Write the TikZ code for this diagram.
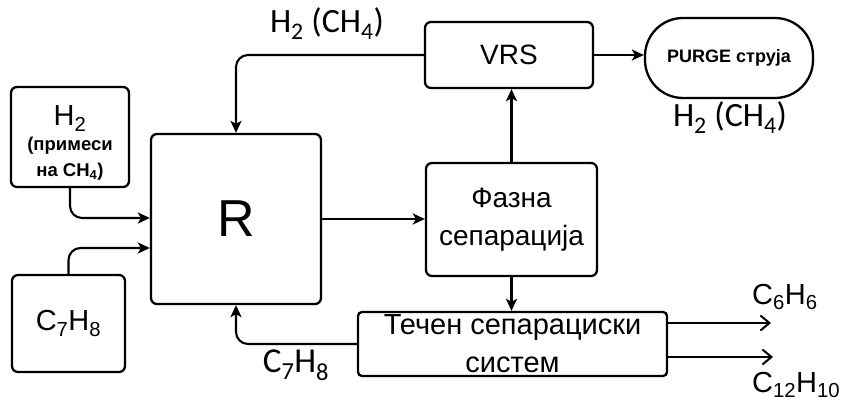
\documentclass[tikz,border=0pt]{standalone}
\usepackage{fontspec}
\setmainfont{Liberation Sans}
\newfontfamily\calib{Carlito}
\usetikzlibrary{arrows.meta,calc}

\tikzset{
  box/.style={draw, line width=2.3pt, rounded corners=6pt, inner sep=0pt, align=center},
  flow/.style={line width=2.1pt, -{Stealth[length=12pt,width=11pt,inset=3pt]}},
  outflow/.style={line width=2.1pt, -{Straight Barb[length=9pt,width=15pt,line width=2pt]}},
  lbl/.style={inner sep=0pt},
}
\newcommand{\fsz}[2]{\fontsize{#1}{#2}\selectfont}

\begin{document}
\begin{tikzpicture}[x=1pt,y=-1pt]
  \useasboundingbox (0,0) rectangle (851,403);

  % process blocks
  \node[box, minimum width=118pt, minimum height=100pt] (h2) at (70,137)
    {\fsz{29}{30}\rule{0pt}{32pt}H\textsubscript{2}\\[5pt]
     \bfseries\fsz{18.5}{21}(примеси\\[8pt]
     \bfseries\fsz{18.5}{21}на CH\textsubscript{4})};
  \node[box, minimum width=113pt, minimum height=97pt, font=\fsz{29}{34}] (c7) at (68.5,323.5)
    {C\textsubscript{7}H\textsubscript{8}};
  \node[box, minimum width=170pt, minimum height=170pt, font=\fsz{52}{60}] (R) at (236,219) {R};
  \node[box, minimum width=171pt, minimum height=113pt, font=\fsz{28}{38}] (faz) at (511.5,219.5)
    {Фазна\\сепарација};
  \node[box, minimum width=168pt, minimum height=66pt, font=\fsz{28}{34}] (vrs) at (509,55) {VRS};
  \node[box, rounded corners=38pt, minimum width=168pt, minimum height=80pt,
        font=\bfseries\fsz{18}{22}] (purge) at (729,58) {PURGE струја};
  \node[box, rounded corners=4pt, minimum width=309pt, minimum height=64pt,
        font=\fsz{29}{38}] (tech) at (512.5,344) {Течен сепарациски\\систем};

  % free ends of the product streams
  \coordinate (out1) at (771,323);
  \coordinate (out2) at (773,357);

  % feeds into the reactor
  \draw[flow, rounded corners=12pt] (h2.south) |- ($(R.west)+(0,-1)$);
  \draw[flow, rounded corners=12pt] (c7.north) |- ($(R.west)+(0,29)$);

  % main streams
  \draw[flow] (R.east) -- (R.east -| faz.west);
  \draw[flow] (faz.north) -- (faz.north |- vrs.south);
  \draw[flow] (faz.south) -- (faz.south |- tech.north);
  \draw[flow] (vrs.east) -- (vrs.east -| purge.west);

  % recycles
  \draw[flow, rounded corners=12pt] (vrs.west) -| (R.north);
  \draw[flow, rounded corners=12pt] (tech.west) -| (R.south);

  % products
  \draw[outflow] ($(tech.east)+(0,-21)$) -- (out1);
  \draw[outflow] ($(tech.east)+(0,13)$) -- (out2);

  % stream labels
  \node[lbl, font=\calib\fsz{34}{38}] (lh2top) at (327,24) {H\textsubscript{2} (CH\textsubscript{4})};
  \node[lbl, font=\calib\fsz{34}{38}] (lh2purge) at (730,118) {H\textsubscript{2} (CH\textsubscript{4})};
  \node[lbl, font=\calib\fsz{35}{38}] (lc7) at (296,365) {C\textsubscript{7}H\textsubscript{8}};
  \node[lbl, anchor=west, font=\fsz{29}{32}] (lc6) at (752,297) {C\textsubscript{6}H\textsubscript{6}};
  \node[lbl, anchor=west, font=\fsz{29}{32}] (lc12) at (752,385) {C\textsubscript{12}H\textsubscript{10}};
\end{tikzpicture}
\end{document}
